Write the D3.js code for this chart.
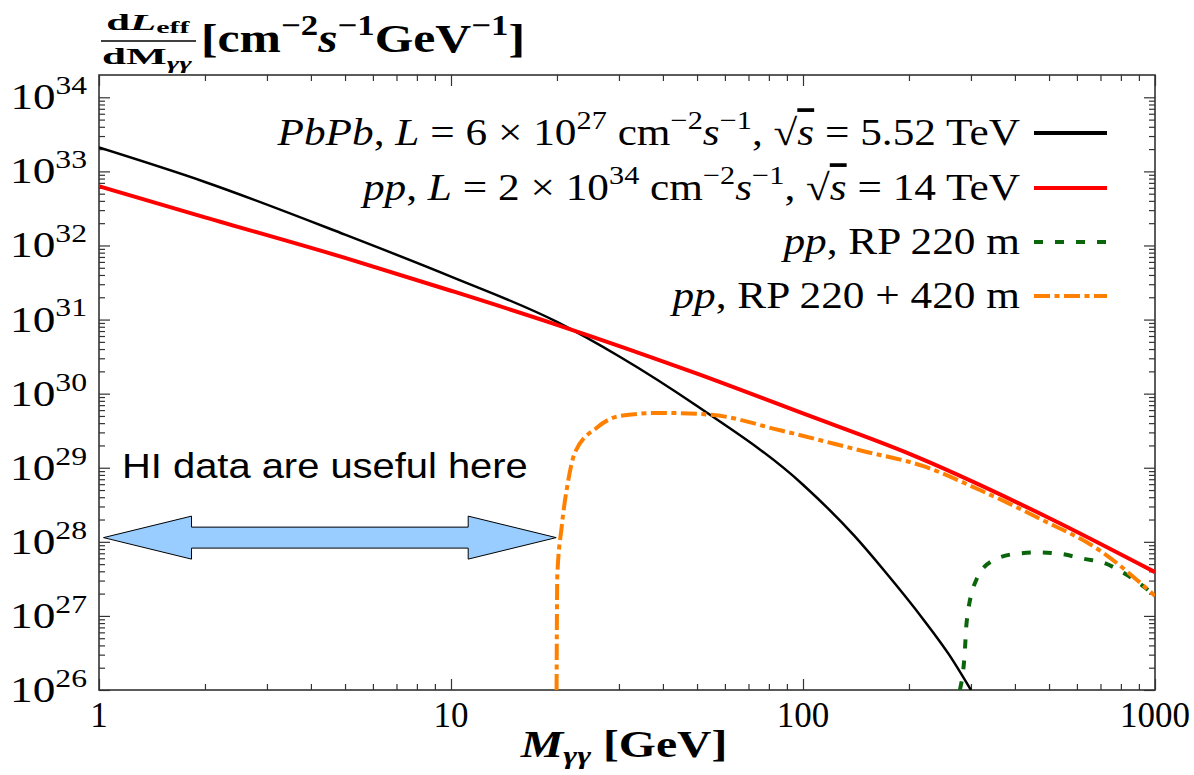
<!DOCTYPE html>
<html>
<head>
<meta charset="utf-8">
<script src="https://cdn.jsdelivr.net/npm/d3@7"></script>
<style>
body { margin: 0; background: #fff; }
text { white-space: pre; }
</style>
</head>
<body>
<div id="grafica"></div>
<script>
// datos: masa en GeV, luminosidad en cm^-2 s^-1 GeV^-1
const pbpbMass = [1, 2, 5, 10, 20, 30, 50, 100, 140, 170, 220, 260, 300]
const pbpbLumi = [2.1e33, 7.2e32, 1.4e32, 3.8e31, 9.3e30, 3.2e30, 6.8e29, 5.9e28, 1.2e28, 4.1e27, 8.9e26, 3.0e26, 1.0e26]

const ppMass = [1, 2, 5, 10, 20, 50, 100, 200, 500, 1000]
const ppLumi = [6.3e32, 2.4e32, 6.8e31, 2.45e31, 8.5e30, 1.86e30, 5.4e29, 1.55e29, 2.1e28, 3.9e27]

const rp420Mass = [19.95, 20.04, 20.63, 21.48, 22.49, 26.0, 30.2, 39.3, 54.5, 86.1, 145, 221, 318, 471, 698, 1000]
const rp420Lumi = [1e26, 3.4e27, 1.6e28, 6.3e28, 1.6e29, 3.5e29, 5.0e29, 5.5e29, 5.2e29, 3.2e29, 1.72e29, 1.04e29, 5.0e28, 2.05e28, 7.6e27, 1.86e27]

const rp220Mass = [279, 287.7, 291.7, 311.9, 344.4, 402.7, 465.6, 537, 628, 716, 822, 938, 1000]
const rp220Lumi = [1e26, 2.9e26, 8.3e26, 3.2e27, 5.5e27, 6.9e27, 7.2e27, 6.9e27, 5.9e27, 5.2e27, 3.7e27, 2.4e27, 1.86e27]

const xTickLabels = ['1', '10', '100', '1000']
const xMajor = [1, 10, 100, 1000]
const yExponents = [26, 27, 28, 29, 30, 31, 32, 33, 34]

// zona de la flecha "HI data are useful here"
const arrowSpan = [1.03, 19.9]
const arrowLumi = 1.14e28

const svgWidth = 1194
const svgHeight = 775
const margin = { top: 75, right: 39, bottom: 85, left: 99 }
const chartWidth = svgWidth - margin.left - margin.right
const chartHeight = svgHeight - margin.top - margin.bottom

const serif = '"Liberation Serif", "DejaVu Serif", serif'

const scaleX = d3.scaleLog()
    .domain([1, 1000])
    .range([margin.left, margin.left + chartWidth])

const scaleY = d3.scaleLog()
    .domain([1e26, 2e34])
    .range([margin.top + chartHeight, margin.top])

const svg = d3.select('#grafica')
    .append('svg')
    .attr('width', svgWidth)
    .attr('height', svgHeight)
    .style('font-family', serif)

// texto con sub/superindices
function rich(sel, segs, fs, subShift = 0.28) {
    let shift = 0
    segs.forEach(s => {
        const target = s.pos === 'sup' ? -0.42 * fs : s.pos === 'sub' ? subShift * fs : 0
        sel.append('tspan')
            .attr('dy', target - shift)
            .style('font-size', (s.pos ? 0.7 * fs : fs) + 'px')
            .style('font-style', s.i ? 'italic' : 'normal')
            .style('font-weight', s.b ? 'bold' : 'normal')
            .style('text-decoration', s.over ? 'overline' : null)
            .text(s.t)
        shift = target
    })
}

// estira el texto en horizontal (la figura original es mas ancha)
function stretch(sel, k) {
    const b = sel.node().getBBox()
    const anchor = sel.attr('text-anchor') || 'start'
    const ax = anchor === 'end' ? b.x + b.width : anchor === 'middle' ? b.x + b.width / 2 : b.x
    sel.attr('transform', `translate(${ax},0) scale(${k},1) translate(${-ax},0)`)
}
const fit = (sel, w) => stretch(sel, w / sel.node().getBBox().width)

// ticks menores
const xMinor = []
;[1, 10, 100].forEach(d => { for (let k = 2; k < 10; k++) xMinor.push(k * d) })
const yMajor = yExponents.map(e => Math.pow(10, e))
const yMinor = []
yExponents.slice(0, -1).forEach(e => { for (let k = 2; k < 10; k++) yMinor.push(k * Math.pow(10, e)) })

const axes = [
    [d3.axisBottom, scaleX, `translate(0,${margin.top + chartHeight})`],
    [d3.axisTop, scaleX, `translate(0,${margin.top})`],
    [d3.axisLeft, scaleY, `translate(${margin.left},0)`],
    [d3.axisRight, scaleY, `translate(${margin.left + chartWidth},0)`]
]
axes.forEach(([fn, sc, tr]) => {
    const isX = sc === scaleX
    const g1 = svg.append('g').attr('transform', tr)
        .call(fn(sc).tickValues(isX ? xMajor : yMajor).tickSize(-11).tickSizeOuter(0).tickFormat(''))
    const g2 = svg.append('g').attr('transform', tr)
        .call(fn(sc).tickValues(isX ? xMinor : yMinor).tickSize(-6).tickSizeOuter(0).tickFormat(''))
    ;[g1, g2].forEach(g => {
        g.select('.domain').remove()
        g.selectAll('line').attr('stroke', '#333').attr('stroke-width', 1.2)
    })
})

// marco
svg.append('rect')
    .attr('x', margin.left)
    .attr('y', margin.top)
    .attr('width', chartWidth)
    .attr('height', chartHeight)
    .attr('fill', 'none')
    .attr('stroke', '#333')
    .attr('stroke-width', 1.6)

// etiquetas eje X
svg.selectAll('.xlab')
    .data(xMajor)
    .enter()
    .append('text')
    .attr('class', 'xlab')
    .attr('x', d => scaleX(d))
    .attr('y', 727)
    .attr('text-anchor', 'middle')
    .style('font-size', '35px')
    .text((d, i) => xTickLabels[i])

// etiquetas eje Y
yExponents.forEach(e => {
    const t = svg.append('text')
        .attr('x', 87)
        .attr('y', scaleY(Math.pow(10, e)) + 12)
        .attr('text-anchor', 'end')
    rich(t, [{ t: '10' }, { t: String(e), pos: 'sup' }], 36)
    fit(t, 77)
})

// curvas
svg.append('clipPath').attr('id', 'clip')
    .append('rect')
    .attr('x', margin.left).attr('y', margin.top)
    .attr('width', chartWidth).attr('height', chartHeight)

const line = d3.line()
    .x(d => scaleX(d[0]))
    .y(d => scaleY(d[1]))
    .curve(d3.curveMonotoneX)

const series = [
    { mass: pbpbMass, lumi: pbpbLumi, color: '#000000', width: 2.5, dash: null },
    { mass: ppMass, lumi: ppLumi, color: '#ff0000', width: 4, dash: null },
    { mass: rp220Mass, lumi: rp220Lumi, color: '#0b650b', width: 4, dash: '9,12' },
    { mass: rp420Mass, lumi: rp420Lumi, color: '#ff8000', width: 4, dash: '16,4.5,5,4.5' }
]

const g = svg.append('g').attr('clip-path', 'url(#clip)')
g.selectAll('.curve')
    .data(series)
    .enter()
    .append('path')
    .attr('class', 'curve')
    .attr('d', s => line(s.mass.map((m, i) => [m, s.lumi[i]])))
    .attr('fill', 'none')
    .attr('stroke', s => s.color)
    .attr('stroke-width', s => s.width)
    .attr('stroke-dasharray', s => s.dash)

// leyenda
const legendRows = [
    [{ t: 'PbPb', i: 1 }, { t: ', ' }, { t: 'L', i: 1 }, { t: ' = 6 × 10' }, { t: '27', pos: 'sup' },
     { t: ' cm' }, { t: '−2', pos: 'sup' }, { t: 's', i: 1 }, { t: '−1', pos: 'sup' }, { t: ', √' }, { t: 's', i: 1, over: 1 },
     { t: ' = 5.52 TeV' }],
    [{ t: 'pp', i: 1 }, { t: ', ' }, { t: 'L', i: 1 }, { t: ' = 2 × 10' }, { t: '34', pos: 'sup' },
     { t: ' cm' }, { t: '−2', pos: 'sup' }, { t: 's', i: 1 }, { t: '−1', pos: 'sup' }, { t: ', √' }, { t: 's', i: 1, over: 1 },
     { t: ' = 14 TeV' }],
    [{ t: 'pp', i: 1 }, { t: ', RP 220 m' }],
    [{ t: 'pp', i: 1 }, { t: ', RP 220 + 420 m' }]
]
const legendY = [133, 188, 242, 296]
let legendK = 1
series.forEach((s, i) => {
    svg.append('line')
        .attr('x1', 1034).attr('x2', 1107)
        .attr('y1', legendY[i]).attr('y2', legendY[i])
        .attr('stroke', s.color)
        .attr('stroke-width', 4)
        .attr('stroke-dasharray', s.dash)
    const t = svg.append('text')
        .attr('x', 1020)
        .attr('y', legendY[i] + 12)
        .attr('text-anchor', 'end')
    rich(t, legendRows[i], 37)
    if (i === 0) legendK = 744 / t.node().getBBox().width
    stretch(t, legendK)
})

// titulo eje Y
const num = svg.append('text').attr('x', 148).attr('y', 30).attr('text-anchor', 'middle')
rich(num, [{ t: 'd', b: 1 }, { t: 'L', b: 1, i: 1 }, { t: 'eff', b: 1, pos: 'sub' }], 24, 0.14)
fit(num, 84)
svg.append('line').attr('x1', 101).attr('x2', 196).attr('y1', 41).attr('y2', 41)
    .attr('stroke', '#000').attr('stroke-width', 1.5)
const den = svg.append('text').attr('x', 147).attr('y', 64).attr('text-anchor', 'middle')
rich(den, [{ t: 'dM', b: 1 }, { t: 'γγ', b: 1, i: 1, pos: 'sub' }], 24, 0.2)
fit(den, 90)
const unit = svg.append('text').attr('x', 201).attr('y', 52)
rich(unit, [{ t: '[cm', b: 1 }, { t: '−2', b: 1, pos: 'sup' }, { t: 's', b: 1, i: 1 }, { t: '−1', b: 1, pos: 'sup' },
    { t: 'GeV', b: 1 }, { t: '−1', b: 1, pos: 'sup' }, { t: ']', b: 1 }], 41)
fit(unit, 324)

// titulo eje X
const xt = svg.append('text').attr('x', 624).attr('y', 757).attr('text-anchor', 'middle')
rich(xt, [{ t: 'M', b: 1, i: 1 }, { t: 'γγ', b: 1, i: 1, pos: 'sub' }, { t: ' [GeV]', b: 1 }], 37, 0.18)
fit(xt, 208)

// anotacion
const hi = svg.append('text')
    .attr('x', 122)
    .attr('y', 478)
    .style('font-family', '"Liberation Sans", Arial, sans-serif')
    .style('font-size', '35px')
    .text('HI data are useful here')
fit(hi, 406)

const ax0 = scaleX(arrowSpan[0]), ax1 = scaleX(arrowSpan[1]), ay = scaleY(arrowLumi)
const head = 88, hh = 21.5, sh = 10.5
svg.append('path')
    .attr('d', `M${ax0},${ay} L${ax0 + head},${ay - hh} L${ax0 + head},${ay - sh} L${ax1 - head},${ay - sh}
        L${ax1 - head},${ay - hh} L${ax1},${ay} L${ax1 - head},${ay + hh} L${ax1 - head},${ay + sh}
        L${ax0 + head},${ay + sh} L${ax0 + head},${ay + hh} Z`)
    .attr('fill', '#99ccff')
    .attr('stroke', '#000')
    .attr('stroke-width', 1)
</script>
</body>
</html>
